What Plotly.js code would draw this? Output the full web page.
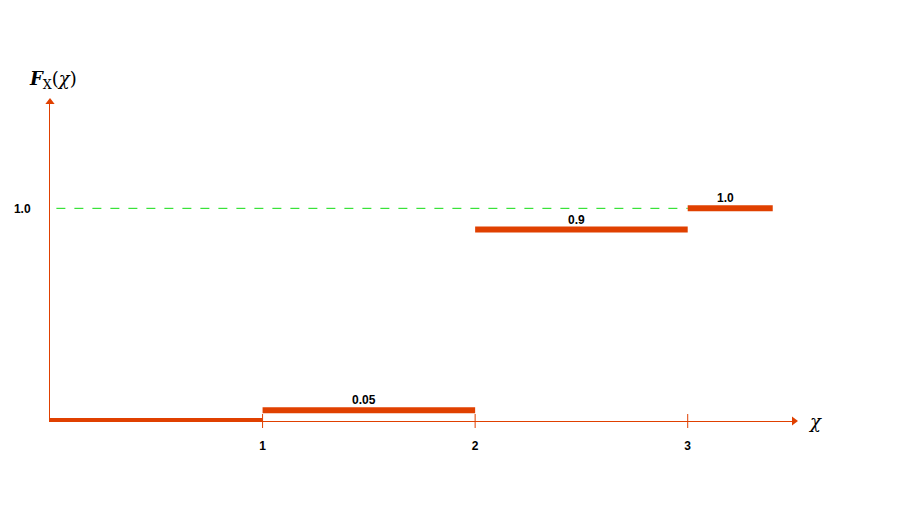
<!DOCTYPE html>
<html><head><meta charset="utf-8">
<script src="https://cdn.plot.ly/plotly-3.0.1.min.js"></script>
<style>body{margin:0;background:#fff}#c{width:905px;height:514px}</style>
</head><body><div id="c"></div>
<script>
const xStart = [0, 1, 2, 3];
const xEnd = [1, 2, 3, 3.4];
const cdf = [0, 0.05, 0.9, 1.0];
const segLabels = ["", "0.05", "0.9", "1.0"];
const xTicks = [1, 2, 3];
const xTickText = ["1", "2", "3"];
const yTicks = [1.0];
const yTickText = ["1.0"];
const xAxisEnd = 3.5;
const yAxisEnd = 1.5;

const red = "#E04000";
const traces = [];
// dashed guide at F=1
traces.push({x:[0.03, 3], y:[1, 1], mode:"lines", line:{color:"#11DD11", width:1, dash:"dash"}, hoverinfo:"skip", showlegend:false});
for (let i = 0; i < xStart.length; i++) {
  traces.push({x:[xStart[i], xEnd[i]], y:[cdf[i], cdf[i]], mode:"lines",
    line:{color:red, width:6}, hoverinfo:"skip", showlegend:false});
}
// tick marks crossing the x axis
traces.push({x:xTicks, y:xTicks.map(() => 0), mode:"markers", cliponaxis:false,
  marker:{symbol:"line-ns", size:10, line:{color:red, width:1}}, hoverinfo:"skip", showlegend:false});
// axis arrowheads
traces.push({x:[xAxisEnd], y:[0], mode:"markers", cliponaxis:false,
  marker:{symbol:"triangle-right", size:8, color:red}, hoverinfo:"skip", showlegend:false});
traces.push({x:[0], y:[yAxisEnd], mode:"markers", cliponaxis:false,
  marker:{symbol:"triangle-up", size:8, color:red}, hoverinfo:"skip", showlegend:false});

const ann = [];
for (let i = 0; i < xStart.length; i++) {
  if (!segLabels[i]) continue;
  ann.push({x:(xStart[i]+xEnd[i])/2, y:cdf[i], xref:"x", yref:"y", text:segLabels[i],
    showarrow:false, yanchor:"bottom", yshift:1, xshift:-5,
    font:{family:"Liberation Sans, Arial", size:12, color:"#000", weight:"bold"}});
}
ann.push({x:xAxisEnd, y:0, xref:"x", yref:"y", text:"<i>χ</i>", showarrow:false, xanchor:"left", xshift:12,
  font:{family:"DejaVu Serif, serif", size:18, color:"#000"}});
ann.push({x:0, y:yAxisEnd, xref:"x", yref:"y", text:"<b><i>F</i></b><sub>X</sub>(<i>χ</i>)", showarrow:false,
  xanchor:"center", yanchor:"bottom", yshift:8, xshift:3,
  font:{family:"DejaVu Serif, serif", size:18, color:"#000"}});

const layout = {
  width:905, height:514,
  margin:{l:50, r:111, t:101.5, b:92.5},
  paper_bgcolor:"#fff", plot_bgcolor:"#fff",
  xaxis:{range:[0,xAxisEnd], showgrid:false, zeroline:false, showline:true, linecolor:red, linewidth:1,
    tickvals:xTicks, ticktext:xTickText, ticks:"outside", ticklen:0, ticklabelstandoff:14,
    tickfont:{family:"Liberation Sans, Arial", size:12, color:"#000", weight:"bold"}, fixedrange:true},
  yaxis:{range:[0,yAxisEnd], showgrid:false, zeroline:false, showline:true, linecolor:red, linewidth:1,
    tickvals:yTicks, ticktext:yTickText, ticks:"outside", ticklen:16, tickcolor:"rgba(0,0,0,0)",
    tickfont:{family:"Liberation Sans, Arial", size:12, color:"#000", weight:"bold"}, fixedrange:true},
  annotations:ann
};
Plotly.newPlot("c", traces, layout, {staticPlot:true, displayModeBar:false});
</script></body></html>
